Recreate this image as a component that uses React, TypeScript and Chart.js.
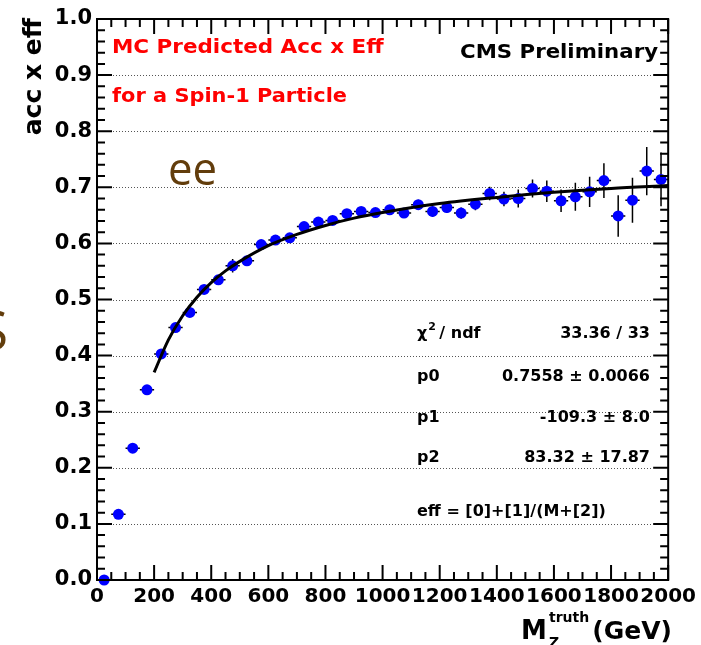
import React, { useEffect, useRef } from "react";
import { Chart, registerables } from "chart.js";

Chart.register(...registerables);

// Bin centres (GeV) of the MC mass points
const massBins = [
  25, 75, 125, 175, 225, 275, 325, 375, 425, 475,
  525, 575, 625, 675, 725, 775, 825, 875, 925, 975,
  1025, 1075, 1125, 1175, 1225, 1275, 1325, 1375, 1425, 1475,
  1525, 1575, 1625, 1675, 1725, 1775, 1825, 1875, 1925, 1975,
];
// acc x eff values
const accEff = [
  0.0, 0.117, 0.235, 0.339, 0.403, 0.45, 0.477, 0.518, 0.535, 0.56,
  0.569, 0.598, 0.606, 0.61, 0.63, 0.638, 0.641, 0.653, 0.657, 0.655,
  0.66, 0.654, 0.669, 0.657, 0.664, 0.654, 0.67, 0.689, 0.679, 0.68,
  0.698, 0.693, 0.676, 0.683, 0.692, 0.712, 0.649, 0.677, 0.729, 0.714,
];
// vertical error bars (half lengths)
const accEffErr = [
  0.0, 0.003, 0.004, 0.005, 0.005, 0.006, 0.006, 0.006, 0.007, 0.012,
  0.007, 0.007, 0.007, 0.007, 0.007, 0.007, 0.008, 0.008, 0.008, 0.008,
  0.008, 0.008, 0.009, 0.01, 0.01, 0.01, 0.011, 0.012, 0.013, 0.016,
  0.016, 0.019, 0.02, 0.025, 0.027, 0.031, 0.037, 0.04, 0.043, 0.048,
];
const binHalfWidth = 25;

const fitMass = [200, 250, 300, 350, 400, 450, 500, 600, 700, 800, 900, 1000, 1200, 1400, 1600, 1800, 2000];
const fitValue = [0.37, 0.428, 0.471, 0.504, 0.53, 0.551, 0.568, 0.596, 0.616, 0.632, 0.645, 0.655, 0.671, 0.682, 0.691, 0.698, 0.703];

const xTicks = [0, 200, 400, 600, 800, 1000, 1200, 1400, 1600, 1800, 2000];
const yTicks = [0, 0.1, 0.2, 0.3, 0.4, 0.5, 0.6, 0.7, 0.8, 0.9, 1.0];
const xMinorStep = 50;
const yMinorStep = 0.02;

const statsLabels = ["p0", "p1", "p2"];
const statsValues = ["0.7558 ± 0.0066", "-109.3 ± 8.0", "83.32 ± 17.87"];
const chiValue = "33.36 / 33";
const fitFormula = "eff = [0]+[1]/(M+[2])";

const FONT = '"DejaVu Sans"';

function wideText(ctx: any, text: string, px: number, py: number, sx: number, align: "left" | "right") {
  ctx.save();
  ctx.translate(px, py);
  ctx.scale(sx, 1);
  ctx.textAlign = align;
  ctx.fillText(text, 0, 0);
  ctx.restore();
}

const rootStyle = {
  id: "rootStyle",
  beforeDatasetsDraw(chart: any) {
    const { ctx, chartArea: a, scales } = chart;
    const x = scales.x;
    const y = scales.y;
    // dotted horizontal grid
    ctx.save();
    ctx.strokeStyle = "#555";
    ctx.lineWidth = 1;
    ctx.setLineDash([1, 2]);
    for (const v of yTicks) {
      if (v <= 0 || v >= 1) continue;
      const py = Math.round(y.getPixelForValue(v)) + 0.5;
      ctx.beginPath();
      ctx.moveTo(a.left + 16, py);
      ctx.lineTo(a.right - 16, py);
      ctx.stroke();
    }
    ctx.restore();
    // error bars
    ctx.save();
    ctx.strokeStyle = "#000";
    ctx.lineWidth = 1.5;
    massBins.forEach((m, i) => {
      const px = x.getPixelForValue(m);
      const py = y.getPixelForValue(accEff[i]);
      ctx.beginPath();
      ctx.moveTo(x.getPixelForValue(m - binHalfWidth), py);
      ctx.lineTo(x.getPixelForValue(m + binHalfWidth), py);
      const e = accEffErr[i];
      if (e > 0) {
        ctx.moveTo(px, y.getPixelForValue(accEff[i] - e));
        ctx.lineTo(px, y.getPixelForValue(accEff[i] + e));
      }
      ctx.stroke();
    });
    ctx.restore();
  },
  afterDraw(chart: any) {
    const { ctx, chartArea: a, scales } = chart;
    const x = scales.x;
    const y = scales.y;
    ctx.save();
    // frame
    ctx.strokeStyle = "#000";
    ctx.lineWidth = 2;
    ctx.strokeRect(a.left, a.top, a.right - a.left, a.bottom - a.top);
    // ticks inside
    ctx.lineWidth = 2;
    ctx.beginPath();
    for (let v = 0; v <= 1.0001; v += yMinorStep) {
      const major = Math.abs(v * 10 - Math.round(v * 10)) < 1e-6;
      const len = major ? 15 : 8;
      const py = y.getPixelForValue(v);
      ctx.moveTo(a.left, py);
      ctx.lineTo(a.left + len, py);
      ctx.moveTo(a.right, py);
      ctx.lineTo(a.right - len, py);
    }
    for (let v = 0; v <= 2000; v += xMinorStep) {
      const major = v % 200 === 0;
      const len = major ? 15 : 8;
      const px = x.getPixelForValue(v);
      ctx.moveTo(px, a.bottom);
      ctx.lineTo(px, a.bottom - len);
      ctx.moveTo(px, a.top);
      ctx.lineTo(px, a.top + len);
    }
    ctx.stroke();

    // red labels
    ctx.textBaseline = "middle";
    ctx.fillStyle = "#ff0000";
    ctx.font = `bold 19px ${FONT}`;
    wideText(ctx, "MC Predicted Acc x Eff", 112, 48, 1.13, "left");
    wideText(ctx, "for a Spin-1 Particle", 112, 97, 1.1, "left");

    ctx.fillStyle = "#000";
    wideText(ctx, "CMS Preliminary", 658, 53, 1.12, "right");

    // stats box
    ctx.font = `bold 16px ${FONT}`;
    ctx.textAlign = "left";
    ctx.fillText("χ", 417, 334);
    const cw = ctx.measureText("χ").width;
    ctx.font = `bold 11px ${FONT}`;
    ctx.fillText("2", 417 + cw + 1, 327);
    ctx.font = `bold 16px ${FONT}`;
    ctx.fillText("/ ndf", 417 + cw + 12, 334);
    ctx.textAlign = "right";
    ctx.fillText(chiValue, 650, 334);
    const rows = [377, 418, 458];
    statsLabels.forEach((lab, i) => {
      ctx.textAlign = "left";
      ctx.fillText(lab, 417, rows[i]);
      ctx.textAlign = "right";
      ctx.fillText(statsValues[i], 650, rows[i]);
    });
    ctx.textAlign = "left";
    ctx.fillText(fitFormula, 417, 512);

    // axis titles
    ctx.save();
    ctx.translate(34, 18);
    ctx.rotate(-Math.PI / 2);
    ctx.textAlign = "right";
    ctx.textBaseline = "middle";
    ctx.font = `bold 25px ${FONT}`;
    ctx.fillText("acc x eff", 0, 0);
    ctx.restore();

    ctx.textBaseline = "alphabetic";
    ctx.textAlign = "left";
    ctx.font = `bold 26px ${FONT}`;
    ctx.fillText("M", 521, 639);
    ctx.font = `bold 14px ${FONT}`;
    ctx.fillText("truth", 549, 622);
    ctx.fillText("Z", 549, 647);
    ctx.font = `bold 25px ${FONT}`;
    ctx.textAlign = "right";
    ctx.fillText("(GeV)", 672, 639);

    // brown overlay text
    ctx.fillStyle = "#623d0c";
    ctx.save();
    ctx.translate(168, 185);
    ctx.scale(0.95, 1);
    ctx.textAlign = "left";
    ctx.font = `46px "Open Sans"`;
    ctx.fillText("ee", 0, 0);
    ctx.restore();
    ctx.save();
    ctx.textAlign = "right";
    ctx.font = `54px "Open Sans"`;
    ctx.fillText("S", 8, 350);
    ctx.restore();

    ctx.restore();
  },
};

export default function App() {
  const ref = useRef<HTMLCanvasElement | null>(null);
  useEffect(() => {
    document.body.style.margin = "0";
    const canvas = ref.current;
    if (!canvas) return;
    const chart = new Chart(canvas, {
      type: "scatter",
      data: {
        datasets: [
          {
            label: "fit",
            data: fitMass.map((m, i) => ({ x: m, y: fitValue[i] })),
            showLine: true,
            borderColor: "#000",
            borderWidth: 3,
            pointRadius: 0,
            cubicInterpolationMode: "monotone",
            fill: false,
            order: 0,
          } as any,
          {
            label: "acc x eff",
            data: massBins.map((m, i) => ({ x: m, y: accEff[i] })),
            backgroundColor: "#0000ff",
            borderColor: "#0000ff",
            borderWidth: 0,
            pointRadius: 5.5,
            clip: false,
            order: 1,
          } as any,
        ],
      },
      options: {
        responsive: false,
        animation: false,
        events: [],
        devicePixelRatio: 1,
        layout: { padding: { top: 19, right: 29, left: 0, bottom: 0 } },
        plugins: { legend: { display: false }, tooltip: { enabled: false } },
        scales: {
          x: {
            type: "linear",
            min: 0,
            max: 2000,
            afterBuildTicks: (s: any) => {
              s.ticks = xTicks.map((v) => ({ value: v }));
            },
            afterFit: (s: any) => {
              s.height = 65;
            },
            grid: { display: false, drawTicks: false },
            border: { display: false },
            ticks: {
              autoSkip: false,
              maxRotation: 0,
              padding: 5,
              color: "#000",
              font: { family: "DejaVu Sans", weight: "bold", size: 20 },
              callback: (v: any) => String(v),
            },
          },
          y: {
            type: "linear",
            min: 0,
            max: 1,
            afterBuildTicks: (s: any) => {
              s.ticks = yTicks.map((v) => ({ value: v }));
            },
            afterFit: (s: any) => {
              s.width = 97;
            },
            grid: { display: false, drawTicks: false },
            border: { display: false },
            ticks: {
              autoSkip: false,
              padding: 5,
              color: "#000",
              font: { family: "DejaVu Sans", weight: "bold", size: 21 },
              callback: (v: any) => Number(v).toFixed(1),
            },
          },
        },
      } as any,
      plugins: [rootStyle],
    });
    return () => chart.destroy();
  }, []);
  return <canvas ref={ref} width={701} height={645} style={{ display: "block", width: 701, height: 645 }} />;
}
